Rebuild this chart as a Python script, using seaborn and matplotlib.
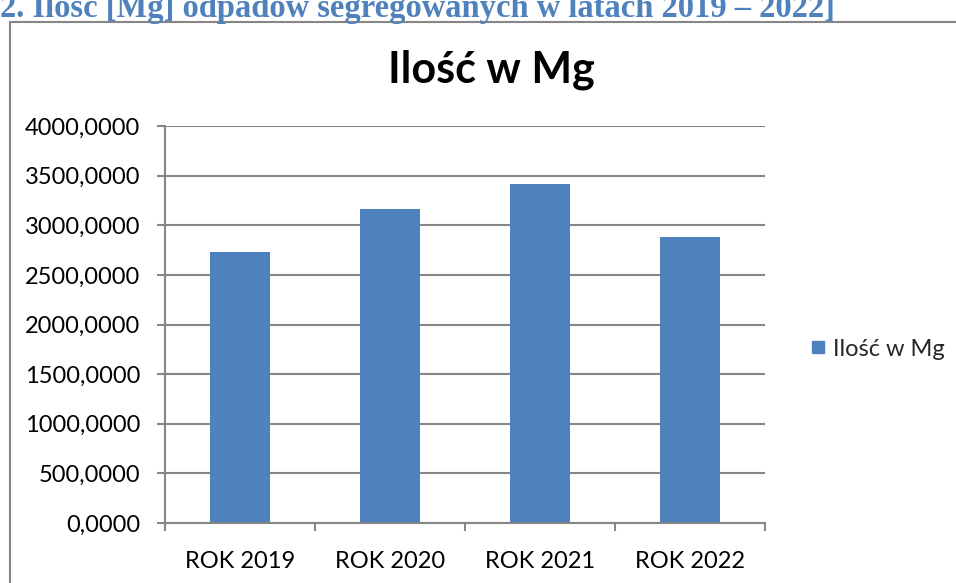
import matplotlib
matplotlib.use("Agg")
import matplotlib.pyplot as plt
from matplotlib.lines import Line2D
from matplotlib.ticker import FuncFormatter
import seaborn as sns
import pandas as pd

categories = ["ROK 2019", "ROK 2020", "ROK 2021", "ROK 2022"]
values = [2726, 3163, 3414, 2884]
series_name = "Ilość w Mg"
y_ticks = [0, 500, 1000, 1500, 2000, 2500, 3000, 3500, 4000]
heading = "2. Ilość [Mg] odpadów segregowanych w latach 2019 – 2022]"

sns.set_theme(style="white")
plt.rcParams["font.family"] = ["Lato", "DejaVu Sans"]

W, H = 956, 583
fig = plt.figure(figsize=(W / 100, H / 100), dpi=100)
ax = fig.add_axes([165 / W, 1 - 523 / H, 600 / W, 397 / H])

df = pd.DataFrame({"cat": categories, "val": values})
BAR = "#4F81BD"
sns.barplot(data=df, x="cat", y="val", color=BAR, width=0.4, ax=ax,
            saturation=1, edgecolor="none")

ax.set_xlim(-0.5, 3.5)
ax.set_ylim(0, 4000)
ax.set_yticks(y_ticks)
ax.yaxis.set_major_formatter(FuncFormatter(lambda v, p: f"{v:.4f}".replace(".", ",")))
ax.set_xlabel("")
ax.set_ylabel("")
ax.grid(axis="y", color="#868686", linewidth=1.5)
ax.set_axisbelow(True)
for s in ["top", "right"]:
    ax.spines[s].set_visible(False)
for s in ["left", "bottom"]:
    ax.spines[s].set_color("#868686")
    ax.spines[s].set_linewidth(1.5)

ax.tick_params(axis="y", which="major", length=6, width=1.5, color="#868686",
               labelsize=17, labelcolor="black", pad=12, left=True)
ax.tick_params(axis="x", which="major", length=0, labelsize=17, labelcolor="black", pad=20)
ax.set_xticks([-0.5, 0.5, 1.5, 2.5, 3.5], minor=True)
ax.tick_params(axis="x", which="minor", length=6, width=1.5, color="#868686", bottom=True)

fig.text(491 / W, 1 - 70 / H, series_name, ha="center", va="center",
         fontsize=31, fontweight="bold", color="black")

handle = Line2D([], [], marker="s", linestyle="none", markersize=8,
                markerfacecolor=BAR, markeredgecolor=BAR)
fig.legend([handle], [series_name], loc="center left",
           bbox_to_anchor=(806 / W, 1 - 349 / H), frameon=False,
           fontsize=17, handletextpad=0.15, handlelength=1.0, borderaxespad=0,
           borderpad=0)

# outer chart border (partially cut by the image edge)
bx, by = 10 / W, 1 - 22 / H
fig.add_artist(Line2D([bx, bx], [0, by], transform=fig.transFigure, color="#868686", linewidth=1.5))
fig.add_artist(Line2D([bx, 1], [by, by], transform=fig.transFigure, color="#868686", linewidth=1.5))

fig.text(0 / W, 1 - 17 / H, heading, ha="left", va="baseline",
         fontsize=23.5, fontweight="bold", color="#4F81BD",
         family=["Liberation Serif", "DejaVu Serif"])

fig.savefig("out.png", dpi=100)
